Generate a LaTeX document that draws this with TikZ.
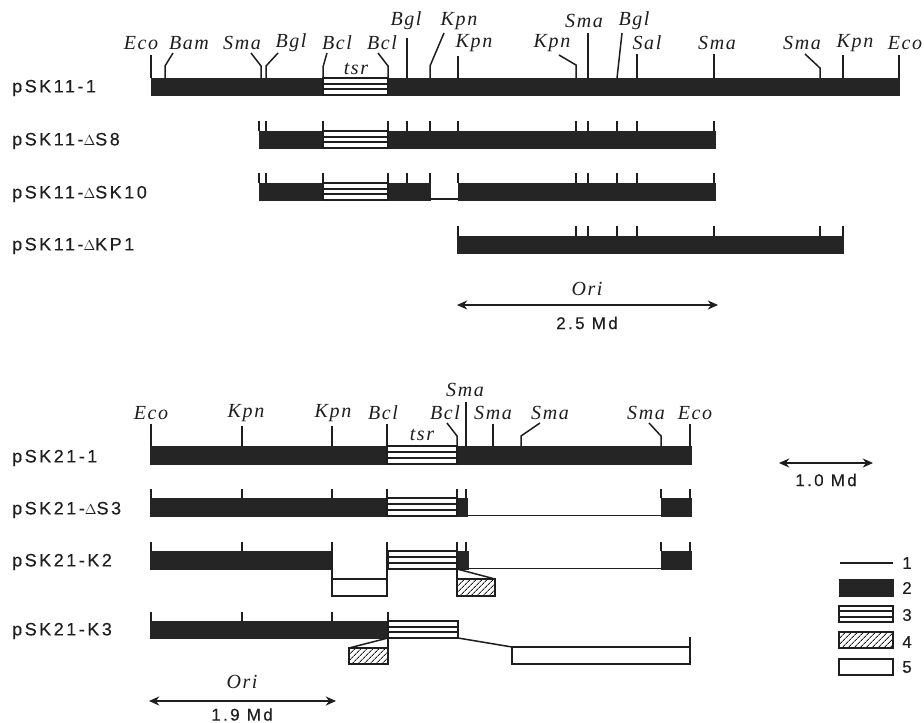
\documentclass[tikz,border=0pt]{standalone}
\usepackage{fontspec}
\setmainfont{Liberation Serif}
\newfontfamily\enzfont[LetterSpace=8]{Liberation Serif}
\newfontfamily\rowfont[LetterSpace=14,FakeBold=0.25]{Liberation Sans}
\usetikzlibrary{arrows.meta, patterns.meta}
\definecolor{ink}{HTML}{1E1E1E}
\definecolor{inkbar}{HTML}{252525}
\tikzset{
  rowlabel/.style={anchor=west, inner sep=0pt, text=ink, font=\rowfont\fontsize{18}{20}\selectfont},
  enzlabel/.style={inner sep=0pt, text=ink, font=\enzfont\itshape\fontsize{20}{22}\selectfont},
  sizelabel/.style={inner sep=0pt, text=ink, font=\rowfont\fontsize{17}{18}\selectfont},
  site/.style={draw=ink, line width=1.5pt},
  barblack/.style={fill=inkbar, draw=inkbar, line width=0.6pt},
  barwhite/.style={fill=white, draw=ink, line width=1.5pt},
  barhatch/.style={draw=ink, line width=1.5pt, pattern={Lines[angle=45,distance=4pt,line width=1pt]}, pattern color=ink},
  span/.style={{Stealth[length=3.6mm,width=3.2mm]}-{Stealth[length=3.6mm,width=3.2mm]}, draw=ink, line width=1.5pt},
}
\newcommand{\dlt}{{\fontsize{15}{15}\selectfont$\Delta$}}
\newcommand{\stripebar}[4]{% x1, x2, top, bottom
  \fill[white] (#1,#3) rectangle (#2,#4);
  \draw[ink, line width=1.7pt] (#1,#3) rectangle (#2,#4);
  \draw[ink, line width=1.7pt] (#1,{#3+(#4-#3)/3}) -- (#2,{#3+(#4-#3)/3});
  \draw[ink, line width=1.7pt] (#1,{#3+2*(#4-#3)/3}) -- (#2,{#3+2*(#4-#3)/3});
}
\begin{document}
\begin{tikzpicture}[x=1pt, y=-1pt]
\useasboundingbox (0,0) rectangle (924,723);
\fill[white] (0,0) rectangle (924,723);

% upper group: row names
\node[rowlabel] (skAone) at (12,88) {pSK11-1};
\node[rowlabel] (skAtwo) at (12,141) {pSK11-\dlt S8};
\node[rowlabel] (skAthree) at (12,194) {pSK11-\dlt SK10};
\node[rowlabel] (skAfour) at (12,246) {pSK11-\dlt KP1};

% upper group: sites
\foreach \name/\x/\y/\txt in {ecoA/141/43/Eco, bamA/189/43/Bam, smaA/242/43/Sma, bglA/291/43/Bgl,
    bclA/337/43/Bcl, bclB/382/43/Bcl, bglB/406/21/Bgl, kpnA/459/21/Kpn, kpnB/474/43/Kpn,
    kpnC/552/43/Kpn, smaB/584/21/Sma, bglC/634/21/Bgl, salA/647/43/Sal, smaC/717/43/Sma,
    smaD/802/43/Sma, kpnD/855/43/Kpn, ecoB/905/43/Eco, tsrA/356/69/tsr}
  \node[enzlabel] (\name) at (\x,\y) {\txt};

\draw[barblack] (151,78) rectangle (899,95);
\stripebar{323}{388}{78}{95}
\foreach \x/\y in {151/55, 407/38, 458/56, 588/33, 637/54, 714/54, 843/55, 899/55}
  \draw[site] (\x,78) -- (\x,\y);
\draw[site] (165,78) -- (165,66) -- (173,53);
\draw[site] (261,78) -- (261,66) -- (251,53);
\draw[site] (266,78) -- (266,66) -- (278,53);
\draw[site] (323,78) -- (323,67) -- (327,53);
\draw[site] (388,78) -- (388,66) -- (378,53);
\draw[site] (430,78) -- (430,66) -- (444,33);
\draw[site] (576,78) -- (576,65) -- (559,55);
\draw[site] (617,78) -- (622,33);
\draw[site] (820,78) -- (820,68) -- (805,54);

\draw[barblack] (259,131) rectangle (715,148);
\stripebar{323}{388}{131}{148}
\foreach \x in {259,266,323,388,407,430,458,576,588,617,637,714}
  \draw[site] (\x,131) -- ++(0,-10);

\draw[barblack] (259,183) rectangle (430,200);
\draw[barblack] (458,183) rectangle (715,200);
\stripebar{323}{388}{183}{200}
\draw[site] (430,199) -- (458,199);
\foreach \x in {259,266,323,388,407,430,458,576,588,617,637,714}
  \draw[site] (\x,183) -- ++(0,-10);

\draw[barblack] (457,236) rectangle (843,253);
\foreach \x in {458,576,588,617,637,714,820,843}
  \draw[site] (\x,236) -- ++(0,-10);

\node[enzlabel] (oriA) at (587,289) {Ori};
\coordinate (oriAl) at (457,305);
\coordinate (oriAr) at (718,305);
\draw[span] (oriAl) -- (oriAr);
\node[sizelabel] (sizeA) at (587,323) {2.5 Md};

% lower group: row names
\node[rowlabel] (skBone) at (12,458) {pSK21-1};
\node[rowlabel] (skBtwo) at (12,510) {pSK21-\dlt S3};
\node[rowlabel] (skBthree) at (12,562) {pSK21-K2};
\node[rowlabel] (skBfour) at (12,631) {pSK21-K3};

% lower group: sites
\foreach \name/\x/\y/\txt in {ecoC/151/413/Eco, kpnE/246/413/Kpn, kpnF/333/413/Kpn, bclC/383/413/Bcl,
    bclD/445/413/Bcl, smaE/465/390/Sma, smaF/493/413/Sma, smaG/550/413/Sma, smaH/646/413/Sma,
    ecoD/695/413/Eco, tsrB/422/435/tsr}
  \node[enzlabel] (\name) at (\x,\y) {\txt};

\draw[barblack] (150,446) rectangle (691,464);
\stripebar{387}{457}{446}{464}
\foreach \x/\y in {151/424, 242/426, 332/426, 387/424, 466/402, 493/424, 690/424}
  \draw[site] (\x,446) -- (\x,\y);
\draw[site] (457,446) -- (457,436) -- (447,423);
\draw[site] (521,446) -- (521,436) -- (540,423);
\draw[site] (661,446) -- (661,436) -- (649,423);

\draw[barblack] (150,498) rectangle (467,516);
\draw[barblack] (661,498) rectangle (691,516);
\stripebar{387}{457}{498}{516}
\draw[site] (467,515.5) -- (661,515.5);
\foreach \x in {151,242,332,387,457,466,661,690}
  \draw[site] (\x,498) -- ++(0,-9);

\draw[barblack] (150,551) rectangle (332,569);
\draw[barblack] (457,551) rectangle (468,569);
\draw[barblack] (661,551) rectangle (691,569);
\stripebar{388}{457}{551}{569}
\draw[site] (468,568.5) -- (661,568.5);
\draw[barwhite] (332,579) rectangle (387,596);
\draw[site] (332,551) -- (332,596);
\draw[site] (387,551) -- (387,596);
\draw[barhatch] (457,579) rectangle (495,596);
\draw[site] (457,569) -- (457,596);
\draw[site] (457,569) -- (495,579);
\foreach \x in {151,242,332,387,457,466,661,690}
  \draw[site] (\x,551) -- ++(0,-9);

\draw[barblack] (150,621) rectangle (388,638);
\stripebar{388}{458}{621}{638}
\foreach \x in {151,242,332,388}
  \draw[site] (\x,621) -- ++(0,-9);
\draw[barhatch] (349,648) rectangle (388,664);
\draw[site] (388,638) -- (388,664);
\draw[site] (388,638) -- (349,648);
\draw[barwhite] (512,647) rectangle (690,664);
\draw[site] (458,638) -- (512,647);
\draw[site] (690,647) -- (690,637);

\node[enzlabel] (oriB) at (242,682) {Ori};
\coordinate (oriBl) at (149,701);
\coordinate (oriBr) at (336,701);
\draw[span] (oriBl) -- (oriBr);
\node[sizelabel] (sizeB) at (242,714.5) {1.9 Md};

% scale bar
\coordinate (scaleL) at (779,463);
\coordinate (scaleR) at (873,463);
\draw[span] (scaleL) -- (scaleR);
\node[sizelabel] (sizeC) at (826,480) {1.0 Md};

% legend
\coordinate (legL) at (840,563);
\coordinate (legR) at (893,563);
\draw[site] (legL) -- (legR);
\draw[barblack] (839,579) rectangle (893,596);
\stripebar{839}{893}{606}{622}
\draw[barhatch] (839,632) rectangle (893,648);
\draw[barwhite] (839,659) rectangle (893,675);
\foreach \y/\txt in {563/1, 588/2, 615/3, 642/4, 667/5}
  \node[sizelabel] (leg\txt) at (907,\y) {\txt};
\end{tikzpicture}
\end{document}
